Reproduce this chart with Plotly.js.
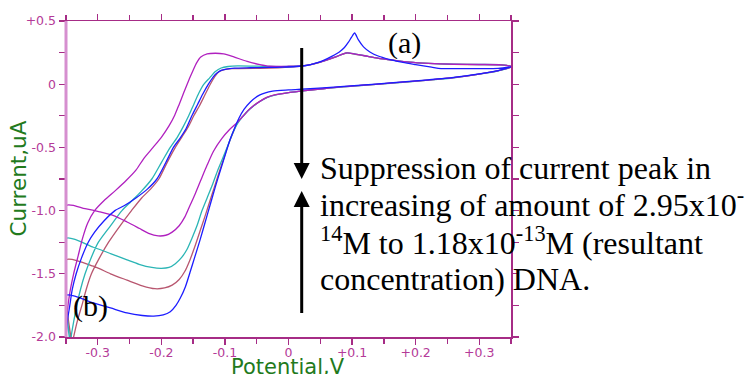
<!DOCTYPE html>
<html>
<head>
<meta charset="utf-8">
<script src="https://cdn.plot.ly/plotly-3.0.1.min.js"></script>
<style>
  html, body { margin: 0; padding: 0; background: #ffffff; }
  #chart { width: 748px; height: 374px; }
</style>
</head>
<body>
<div id="chart"></div>
<script>
// Cyclic voltammograms: potential (V) vs current (uA).
// Each run is split into the sweep towards positive potential ("up")
// and the return sweep towards negative potential ("down").

// --- run 1 (blue) ---
const blueUpE = [-0.35, -0.307, -0.28, -0.254, -0.23, -0.212, -0.197, -0.186, -0.177, -0.17, -0.162, -0.155, -0.147, -0.139, -0.131, -0.123, -0.115, -0.107, -0.099, -0.092, -0.085, -0.078, -0.07, -0.06, -0.045, -0.025, 0.0, 0.02, 0.06, 0.114, 0.16, 0.22, 0.26, 0.30, 0.33, 0.35];
const blueUpI = [-1.67, -1.73, -1.77, -1.81, -1.83, -1.835, -1.825, -1.80, -1.75, -1.69, -1.60, -1.49, -1.36, -1.23, -1.09, -0.95, -0.81, -0.68, -0.55, -0.44, -0.35, -0.27, -0.20, -0.14, -0.085, -0.055, -0.045, -0.04, -0.027, -0.008, 0.01, 0.035, 0.054, 0.082, 0.108, 0.137];
const blueDownE = [0.35, 0.33, 0.28, 0.24, 0.225, 0.2, 0.18, 0.16, 0.14, 0.128, 0.118, 0.11, 0.104, 0.099, 0.094, 0.088, 0.08, 0.068, 0.056, 0.042, 0.028, 0.012, -0.01, -0.03, -0.06, -0.085, -0.098, -0.106, -0.112, -0.118, -0.126, -0.135, -0.143, -0.152, -0.161, -0.171, -0.181, -0.193, -0.207, -0.222, -0.24, -0.258, -0.273, -0.29, -0.305, -0.315, -0.326, -0.334, -0.34, -0.344, -0.348, -0.35];
const blueDownI = [0.137, 0.125, 0.124, 0.124, 0.135, 0.155, 0.172, 0.195, 0.225, 0.255, 0.295, 0.35, 0.405, 0.37, 0.33, 0.29, 0.255, 0.22, 0.19, 0.165, 0.148, 0.14, 0.135, 0.133, 0.13, 0.127, 0.12, 0.11, 0.09, 0.06, 0.0, -0.08, -0.16, -0.25, -0.35, -0.43, -0.5, -0.62, -0.75, -0.83, -0.9, -0.96, -1.0, -1.08, -1.17, -1.25, -1.38, -1.5, -1.62, -1.75, -1.88, -2.0];

// --- run 2 (rose) ---
const roseUpE = [-0.35, -0.307, -0.28, -0.254, -0.23, -0.21, -0.195, -0.183, -0.172, -0.163, -0.155, -0.147, -0.139, -0.131, -0.124, -0.117, -0.11, -0.102, -0.094, -0.087, -0.08, -0.072, -0.064, -0.055, -0.045, -0.034, -0.02, 0.0, 0.02, 0.06, 0.114, 0.16, 0.22, 0.26, 0.30, 0.33, 0.35];
const roseUpI = [-1.39, -1.44, -1.50, -1.55, -1.595, -1.618, -1.612, -1.59, -1.545, -1.48, -1.39, -1.28, -1.16, -1.04, -0.93, -0.82, -0.71, -0.59, -0.47, -0.38, -0.30, -0.255, -0.21, -0.17, -0.135, -0.105, -0.083, -0.066, -0.054, -0.032, -0.01, 0.008, 0.033, 0.052, 0.08, 0.107, 0.137];
const roseDownE = [0.35, 0.335, 0.30, 0.26, 0.22, 0.19, 0.165, 0.14, 0.12, 0.105, 0.092, 0.085, 0.075, 0.062, 0.048, 0.035, 0.02, 0.0, -0.03, -0.09, -0.101, -0.109, -0.116, -0.123, -0.132, -0.14, -0.149, -0.158, -0.168, -0.178, -0.192, -0.204, -0.217, -0.231, -0.247, -0.265, -0.283, -0.298, -0.31, -0.318, -0.325, -0.332, -0.338, -0.34];
const roseDownI = [0.14, 0.152, 0.155, 0.157, 0.164, 0.174, 0.189, 0.206, 0.224, 0.237, 0.247, 0.237, 0.217, 0.194, 0.171, 0.154, 0.143, 0.135, 0.127, 0.123, 0.115, 0.1, 0.06, 0.0, -0.09, -0.17, -0.25, -0.34, -0.42, -0.5, -0.63, -0.75, -0.83, -0.9, -1.0, -1.12, -1.25, -1.38, -1.5, -1.62, -1.75, -1.87, -2.0, -2.05];

// --- run 3 (teal) ---
const tealUpE = [-0.35, -0.307, -0.28, -0.254, -0.235, -0.215, -0.2, -0.188, -0.178, -0.168, -0.16, -0.152, -0.144, -0.136, -0.128, -0.12, -0.112, -0.103, -0.095, -0.088, -0.08, -0.072, -0.064, -0.055, -0.045, -0.034, -0.02, 0.0, 0.02, 0.06, 0.114, 0.16, 0.22, 0.26, 0.30, 0.33, 0.35];
const tealUpI = [-1.22, -1.29, -1.34, -1.39, -1.425, -1.45, -1.457, -1.45, -1.42, -1.37, -1.31, -1.22, -1.12, -1.0, -0.9, -0.8, -0.69, -0.58, -0.48, -0.39, -0.31, -0.257, -0.212, -0.172, -0.137, -0.106, -0.084, -0.067, -0.055, -0.033, -0.011, 0.007, 0.032, 0.051, 0.079, 0.106, 0.137];
const tealDownE = [0.35, 0.335, 0.30, 0.26, 0.22, 0.19, 0.165, 0.14, 0.12, 0.105, 0.092, 0.085, 0.075, 0.062, 0.048, 0.035, 0.02, 0.0, -0.03, -0.08, -0.095, -0.106, -0.115, -0.124, -0.133, -0.141, -0.149, -0.157, -0.166, -0.175, -0.186, -0.2, -0.215, -0.232, -0.248, -0.262, -0.28, -0.299, -0.311, -0.32, -0.327, -0.333, -0.338, -0.342, -0.343];
const tealDownI = [0.14, 0.153, 0.156, 0.158, 0.165, 0.175, 0.19, 0.207, 0.225, 0.238, 0.248, 0.238, 0.218, 0.195, 0.172, 0.155, 0.145, 0.14, 0.14, 0.145, 0.14, 0.128, 0.1, 0.05, 0.0, -0.07, -0.16, -0.25, -0.34, -0.42, -0.5, -0.62, -0.75, -0.85, -0.93, -1.0, -1.12, -1.25, -1.38, -1.5, -1.62, -1.75, -1.88, -2.0, -2.05];

// --- run 4 (violet) ---
const violetUpE = [-0.35, -0.32, -0.297, -0.275, -0.254, -0.235, -0.22, -0.205, -0.193, -0.183, -0.172, -0.163, -0.155, -0.147, -0.138, -0.128, -0.118, -0.105, -0.093, -0.08, -0.072, -0.064, -0.055, -0.045, -0.034, -0.02, 0.0, 0.02, 0.06, 0.114, 0.16, 0.22, 0.26, 0.30, 0.33, 0.35];
const violetUpI = [-0.96, -0.985, -1.01, -1.04, -1.09, -1.14, -1.18, -1.2, -1.195, -1.17, -1.12, -1.05, -0.96, -0.87, -0.76, -0.64, -0.53, -0.43, -0.36, -0.3, -0.256, -0.211, -0.171, -0.136, -0.105, -0.083, -0.066, -0.054, -0.032, -0.01, 0.008, 0.033, 0.052, 0.08, 0.107, 0.137];
const violetDownE = [0.35, 0.335, 0.30, 0.26, 0.22, 0.19, 0.165, 0.14, 0.12, 0.105, 0.092, 0.085, 0.075, 0.062, 0.048, 0.035, 0.02, 0.0, -0.03, -0.045, -0.065, -0.086, -0.102, -0.115, -0.128, -0.138, -0.145, -0.15, -0.157, -0.165, -0.172, -0.179, -0.188, -0.2, -0.213, -0.228, -0.24, -0.255, -0.272, -0.29, -0.305, -0.316, -0.324, -0.331, -0.338, -0.344, -0.348, -0.35];
const violetDownI = [0.14, 0.153, 0.156, 0.158, 0.165, 0.175, 0.19, 0.207, 0.225, 0.238, 0.248, 0.238, 0.218, 0.195, 0.172, 0.155, 0.145, 0.142, 0.142, 0.155, 0.18, 0.216, 0.24, 0.245, 0.24, 0.215, 0.165, 0.11, 0.03, -0.07, -0.16, -0.245, -0.33, -0.42, -0.5, -0.59, -0.68, -0.76, -0.84, -0.92, -1.0, -1.1, -1.22, -1.36, -1.5, -1.65, -1.8, -1.95];

// axis tick values and labels
const xTickVals = [-0.3, -0.2, -0.1, 0, 0.1, 0.2, 0.3];
const xTickText = ['-0.3', '-0.2', '-0.1', '0', '+0.1', '+0.2', '+0.3'];
const yTickVals = [0.5, 0, -0.5, -1.0, -1.5, -2.0];
const yTickText = ['+0.5', '0', '-0.5', '-1.0', '-1.5', '-2.0'];

const runs = [
  { upE: roseUpE, upI: roseUpI, downE: roseDownE, downI: roseDownI, color: '#b8566f' },
  { upE: tealUpE, upI: tealUpI, downE: tealDownE, downI: tealDownI, color: '#2bb5b5' },
  { upE: violetUpE, upI: violetUpI, downE: violetDownE, downI: violetDownI, color: '#b020bf' },
  { upE: blueUpE, upI: blueUpI, downE: blueDownE, downI: blueDownI, color: '#1c1cff' }
];

// each loop: up sweep, return sweep, then back to its starting point
const traces = runs.map(r => ({
  type: 'scatter',
  mode: 'lines',
  x: r.upE.concat(r.downE, [r.upE[0]]),
  y: r.upI.concat(r.downI, [r.upI[0]]),
  line: { color: r.color, width: 1.3, shape: 'spline', smoothing: 0.7 },
  hoverinfo: 'skip',
  showlegend: false
}));

// plot frame in pixels: left 66, right 511, top 21, bottom 337
const L = 66, R = 511, T = 21, B = 337;
const px = p => (p - L) / (R - L);
const py = p => (B - p) / (B - T);

const frameColor = '#a62c86';
const labelColor = '#b43a98';
const titleGreen = '#227a1c';
const serif = 'Liberation Serif, Times New Roman, serif';
const sans = 'DejaVu Sans, Verdana, sans-serif';

function textLine(txt, xPix, yPix) {
  return {
    xref: 'paper', yref: 'paper', x: px(xPix), y: py(yPix),
    xanchor: 'left', yanchor: 'bottom',
    text: txt, showarrow: false,
    font: { family: serif, size: 32, color: '#000000' }
  };
}

const annotations = [
  // axis titles
  { xref: 'paper', yref: 'paper', x: px(288), y: py(353), xanchor: 'center', yanchor: 'top',
    text: 'Potential,V', showarrow: false, font: { family: sans, size: 21, color: titleGreen } },
  { xref: 'paper', yref: 'paper', x: px(18), y: py(178.5), xanchor: 'center', yanchor: 'middle',
    textangle: -90, text: 'Current,uA', showarrow: false, font: { family: sans, size: 21.5, color: titleGreen } },
  // description of the titration series
  textLine('Suppression of current peak in', 318, 188),
  textLine('increasing of amount of 2.95x10<sup>-</sup>', 318, 225),
  textLine('<sup>14</sup>M to 1.18x10<sup>-13</sup>M (resultant', 318, 263),
  textLine('concentration) DNA.', 318, 299),
  { xref: 'paper', yref: 'paper', x: px(404), y: py(43), xanchor: 'center', yanchor: 'middle',
    text: '(a)', showarrow: false, font: { family: serif, size: 30, color: '#000000' } },
  { xref: 'paper', yref: 'paper', x: px(90), y: py(306), xanchor: 'center', yanchor: 'middle',
    text: '(b)', showarrow: false, font: { family: serif, size: 30, color: '#000000' } }
];

const arrowX = 301.7;
const shapes = [
  // heavy left axis line
  { type: 'line', xref: 'paper', yref: 'paper', x0: 0, x1: 0, y0: 0, y1: 1,
    line: { color: '#d68fcf', width: 3 }, layer: 'above' },
  // downward arrow
  { type: 'line', xref: 'paper', yref: 'paper', x0: px(arrowX), x1: px(arrowX), y0: py(48), y1: py(165),
    line: { color: '#000000', width: 3 }, layer: 'above' },
  { type: 'path', xref: 'paper', yref: 'paper', layer: 'above',
    path: `M ${px(arrowX - 8)},${py(163)} L ${px(arrowX + 8)},${py(163)} L ${px(arrowX)},${py(179)} Z`,
    fillcolor: '#000000', line: { color: '#000000', width: 0 } },
  // upward arrow
  { type: 'line', xref: 'paper', yref: 'paper', x0: px(arrowX), x1: px(arrowX), y0: py(205), y1: py(313),
    line: { color: '#000000', width: 3 }, layer: 'above' },
  { type: 'path', xref: 'paper', yref: 'paper', layer: 'above',
    path: `M ${px(arrowX - 8)},${py(207)} L ${px(arrowX + 8)},${py(207)} L ${px(arrowX)},${py(191)} Z`,
    fillcolor: '#000000', line: { color: '#000000', width: 0 } }
];

const axisCommon = {
  showline: true, linecolor: frameColor, linewidth: 1.5, mirror: 'ticks',
  ticks: 'outside', ticklen: 6, tickwidth: 1.3, tickcolor: frameColor,
  showgrid: false, zeroline: false, automargin: false,
  tickfont: { family: sans, size: 12.5, color: labelColor }
};

const layout = {
  width: 748, height: 374,
  margin: { l: L, r: 748 - R, t: T, b: 374 - B, pad: 0 },
  paper_bgcolor: '#ffffff', plot_bgcolor: '#ffffff',
  showlegend: false,
  xaxis: Object.assign({}, axisCommon, {
    range: [-0.35, 0.35],
    tickmode: 'array', tickvals: xTickVals, ticktext: xTickText,
    ticklabelstandoff: -3,
    minor: { dtick: 0.05, tick0: 0, ticks: 'outside', ticklen: 5, tickcolor: frameColor, tickwidth: 1.3 }
  }),
  yaxis: Object.assign({}, axisCommon, {
    range: [-2.0, 0.5],
    tickmode: 'array', tickvals: yTickVals, ticktext: yTickText,
    minor: { dtick: 0.25, tick0: 0, ticks: 'outside', ticklen: 6, tickcolor: frameColor, tickwidth: 1.3 }
  }),
  annotations: annotations,
  shapes: shapes
};

Plotly.newPlot('chart', traces, layout, { staticPlot: true, displayModeBar: false });
</script>
</body>
</html>
